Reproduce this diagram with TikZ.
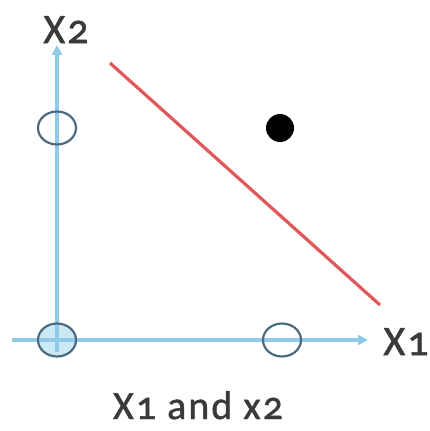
\documentclass[tikz,border=0pt]{standalone}
\usepackage{fontspec}
\setmainfont{Carlito}[Numbers=OldStyle, LetterSpace=5, FakeBold=1.2]
\usetikzlibrary{arrows.meta,shapes.geometric}
\definecolor{axisblue}{HTML}{8FCBE6}
\definecolor{ringcol}{HTML}{4D6B80}
\definecolor{redline}{HTML}{E0585A}
\definecolor{txt}{HTML}{3A3A3A}
\tikzset{
  axis/.style={axisblue, line width=3.2pt, -{Triangle[length=10pt,width=10pt]}},
  ring/.style={draw=ringcol, line width=2.2pt, ellipse, minimum width=38pt, minimum height=33pt, inner sep=0pt},
  lbl/.style={text=txt, font=\fontsize{42}{44}\selectfont, inner sep=0pt}
}
\begin{document}
\begin{tikzpicture}[x=1pt,y=-1pt]
\useasboundingbox (0,0) rectangle (429,431);
\coordinate (xstart) at (12,340);
\coordinate (xend) at (368,340);
\coordinate (ystart) at (57,352);
\coordinate (yend) at (57,45);
\draw[axis] (ystart) -- (yend);
\draw[axis] (xstart) -- (xend);
\node[ring, fill=axisblue, fill opacity=0.45] (o) at (57,340) {};
\node[ring] (p1) at (282,340) {};
\node[ring] (p2) at (57,128) {};
\fill[black] (280,128) circle (14) node (q) {};
\coordinate (r1) at (110,63);
\coordinate (r2) at (380,305);
\draw[redline, line width=3.2pt] (r1) -- (r2);
\node[lbl, anchor=base] (lx2) at (66,43) {X2};
\node[lbl, anchor=base] (lx1) at (406,355) {X1};
\node[lbl, anchor=base, font=\fontsize{40}{42}\selectfont] (cap) at (198,419) {X1 and x2};
\end{tikzpicture}
\end{document}
